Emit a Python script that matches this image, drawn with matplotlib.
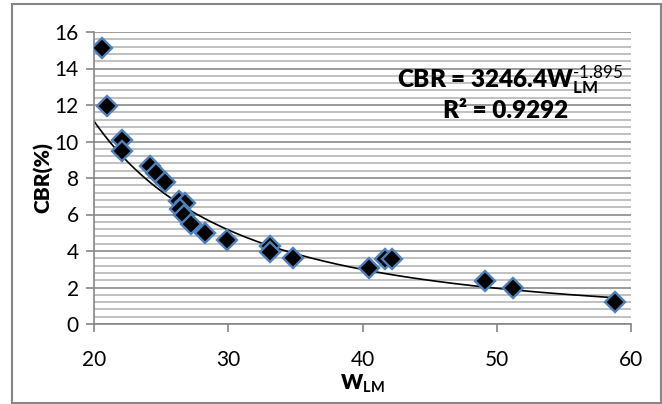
import numpy as np
import matplotlib.pyplot as plt
from matplotlib.patches import Rectangle
from matplotlib.ticker import MultipleLocator

plt.rcParams['font.family'] = ['Lato', 'DejaVu Sans']
plt.rcParams['mathtext.fontset'] = 'custom'
plt.rcParams['mathtext.rm'] = 'Lato'
plt.rcParams['mathtext.bf'] = 'Lato:bold'
plt.rcParams['mathtext.it'] = 'Lato:italic'

# measured points
w_lm = [20.6, 21.0, 22.1, 22.1, 24.2, 24.6, 25.3, 26.3, 26.8, 26.4, 26.7, 27.2,
        28.3, 29.9, 33.1, 33.1, 34.8, 40.5, 41.7, 42.2, 49.1, 51.2, 58.8]
cbr = [15.15, 11.95, 10.1, 9.5, 8.65, 8.3, 7.8, 6.75, 6.65, 6.3, 5.95, 5.5,
       5.0, 4.6, 4.3, 3.95, 3.63, 3.08, 3.56, 3.54, 2.35, 2.0, 1.23]

# power trendline  CBR = a * W^b
coef_a = 3246.4
coef_b = -1.895
r2 = 0.9292

W, H = 662, 404
fig = plt.figure(figsize=(W/100, H/100), dpi=100)
ax = fig.add_axes([94/W, 80/H, 537/W, 292/H])

ax.set_xlim(20, 60)
ax.set_ylim(0, 16)
ax.yaxis.set_major_locator(MultipleLocator(2))
ax.yaxis.set_minor_locator(MultipleLocator(0.4))
ax.xaxis.set_major_locator(MultipleLocator(10))

ax.grid(axis='y', which='minor', color='#c0c0c0', lw=1.4, zorder=0)
ax.grid(axis='y', which='major', color='#8a8a8a', lw=1.2, zorder=0)

xt = np.linspace(20, max(w_lm), 200)
ax.plot(xt, coef_a * xt ** coef_b, color='black', lw=1.2, zorder=2)

ax.plot(w_lm, cbr, linestyle='none', marker='D', markersize=10.5,
        markerfacecolor='black', markeredgecolor='#4f81bd', markeredgewidth=1.7, zorder=3)

for s in ['top', 'right']:
    ax.spines[s].set_visible(False)
for s in ['left', 'bottom']:
    ax.spines[s].set_color('#868686')
    ax.spines[s].set_linewidth(1.2)

ax.tick_params(axis='both', which='major', labelsize=15, color='#868686',
               length=6, width=1.2, direction='out')
ax.tick_params(axis='y', which='minor', length=0)
ax.tick_params(axis='x', pad=13)
ax.tick_params(axis='y', pad=5)

ax.set_ylabel('CBR(%)', fontsize=15, fontweight='heavy', labelpad=1)
ax.set_xlabel(r'W$_{\mathbf{LM}}$', fontsize=15, fontweight='heavy', labelpad=2)

ax.text(510/W, 1 - 80/H, r'CBR = 3246.4W$_{\mathbf{LM}}^{\text{-1.895}}$',
        transform=fig.transFigure, fontsize=17.5, fontweight='heavy', ha='center', va='center')
ax.text(506/W, 1 - 111/H, 'R² = %.4f' % r2, transform=fig.transFigure,
        fontsize=17.5, fontweight='heavy', ha='center', va='center')

fig.patches.append(Rectangle((12/W, 1/H), (W - 13)/W, 399/H, transform=fig.transFigure,
                             fill=False, edgecolor='#868686', lw=1.5))

fig.savefig('out.png', dpi=100)
